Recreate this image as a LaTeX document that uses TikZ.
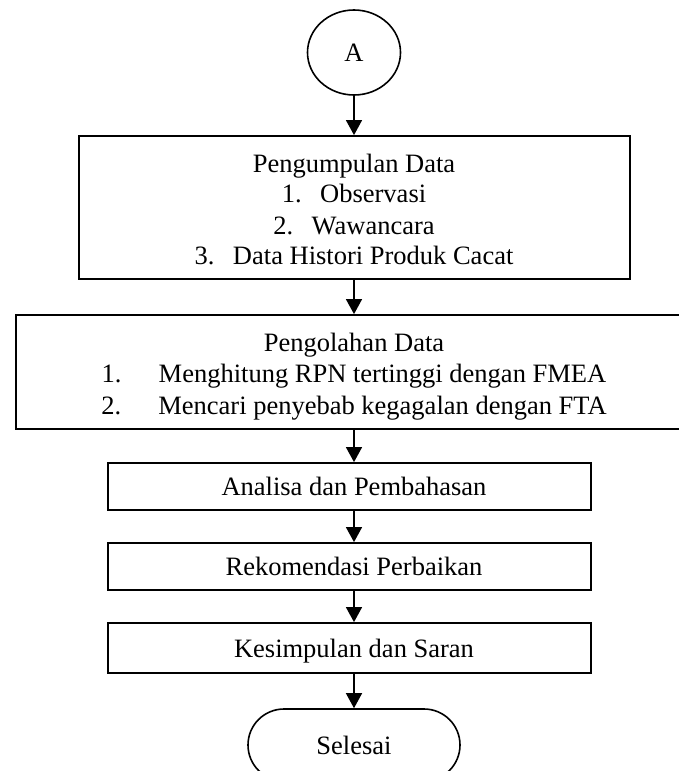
\documentclass[tikz,border=0pt]{standalone}
\usepackage{fontspec}
\setmainfont{Liberation Serif}
\usetikzlibrary{arrows.meta,shapes.misc,shapes.geometric}
\begin{document}
\begin{tikzpicture}[x=1pt,y=-1pt,
  font=\fontsize{26.5}{31}\selectfont,
  boxstyle/.style={draw,line width=1.8pt,rectangle,inner sep=0pt},
  txt/.style={anchor=base,inner sep=0pt},
  conn/.style={line width=1.4pt,-{Triangle[length=15pt,width=16pt]}}]
\useasboundingbox (0,0) rectangle (679,771);
% shapes
\node[draw,line width=1.6pt,ellipse,minimum width=93pt,minimum height=85pt,inner sep=0pt] (a) at (354,52.5) {};
\node[boxstyle,minimum width=551pt,minimum height=143pt] (b1) at (354.5,207.5) {};
\node[boxstyle,minimum width=670pt,minimum height=114pt] (b2) at (351,372) {};
\node[boxstyle,minimum width=483pt,minimum height=47pt] (b3) at (349.5,486.5) {};
\node[boxstyle,minimum width=483pt,minimum height=47pt] (b4) at (349.5,566.5) {};
\node[boxstyle,minimum width=483pt,minimum height=50pt] (b5) at (349.5,648) {};
\node[draw,line width=1.6pt,rounded rectangle,minimum width=212pt,minimum height=72pt,inner sep=0pt] (end) at (354,745) {};
% texts
\node[txt] (ta) at (354,61.5) {A};
\node[txt] (t11) at (354,172) {Pengumpulan Data};
\node[txt] (t12) at (354,202) {1.\hspace{0.7em}Observasi};
\node[txt] (t13) at (354,234) {2.\hspace{0.7em}Wawancara};
\node[txt] (t14) at (354,264) {3.\hspace{0.7em}Data Histori Produk Cacat};
\node[txt] (t21) at (354,351) {Pengolahan Data};
\node[txt] (t22) at (354,382) {1.\hspace{1.4em}Menghitung RPN tertinggi dengan FMEA};
\node[txt] (t23) at (354,414) {2.\hspace{1.4em}Mencari penyebab kegagalan dengan FTA};
\node[txt] (t3) at (354,495.5) {Analisa dan Pembahasan};
\node[txt] (t4) at (354,575.5) {Rekomendasi Perbaikan};
\node[txt] (t5) at (354,657) {Kesimpulan dan Saran};
\node[txt] (t6) at (354,754) {Selesai};
% connectors
\draw[conn] (a.south) -- (a.south |- b1.north);
\draw[conn] (a.south |- b1.south) -- (a.south |- b2.north);
\draw[conn] (a.south |- b2.south) -- (a.south |- b3.north);
\draw[conn] (a.south |- b3.south) -- (a.south |- b4.north);
\draw[conn] (a.south |- b4.south) -- (a.south |- b5.north);
\draw[conn] (a.south |- b5.south) -- (end.north);
\end{tikzpicture}
\end{document}
